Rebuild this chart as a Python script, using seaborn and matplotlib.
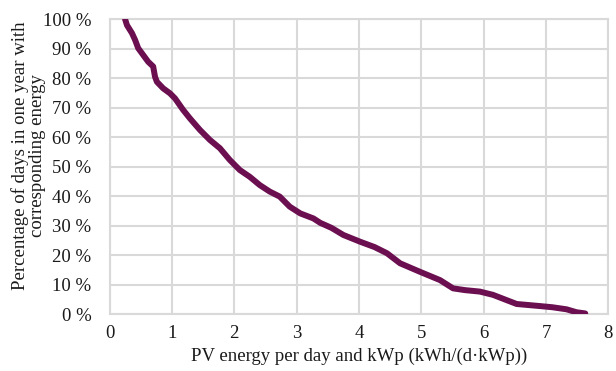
import matplotlib
matplotlib.use("Agg")
import matplotlib.pyplot as plt
import seaborn as sns
import pandas as pd
from matplotlib.ticker import FuncFormatter

# Daily PV yield per kWp and share of days in the year reaching at least that yield
energy = [0.25, 0.28, 0.36, 0.41, 0.46, 0.54, 0.62, 0.70, 0.73, 0.76, 0.86, 0.97,
          1.05, 1.18, 1.29, 1.45, 1.61, 1.77, 1.93, 2.09, 2.25, 2.41, 2.57, 2.73,
          2.89, 3.06, 3.27, 3.38, 3.56, 3.75, 4.02, 4.25, 4.45, 4.66, 4.98, 5.30,
          5.51, 5.70, 5.94, 6.15, 6.37, 6.53, 6.90, 7.10, 7.33, 7.49, 7.63]
share = [100.0, 98.0, 95.3, 93.0, 90.2, 87.9, 85.6, 84.0, 80.5, 78.8, 76.6, 74.9,
         73.2, 69.3, 66.4, 62.5, 59.1, 56.3, 52.3, 48.9, 46.6, 43.8, 41.6, 39.9,
         36.5, 34.2, 32.5, 31.0, 29.3, 26.9, 24.6, 22.8, 20.7, 17.3, 14.4, 11.6,
         8.8, 8.2, 7.7, 6.6, 4.8, 3.5, 2.8, 2.4, 1.7, 0.7, 0.3]

x_ticks = [0, 1, 2, 3, 4, 5, 6, 7, 8]
y_ticks = [0, 10, 20, 30, 40, 50, 60, 70, 80, 90, 100]

df = pd.DataFrame({"energy": energy, "share": share})

sns.set_style("white")
plt.rcParams["font.family"] = ["Liberation Serif", "DejaVu Serif"]

grid_col = "#d9d9d9"
text_col = "#1a1a1a"
fig = plt.figure(figsize=(6.16, 3.71), dpi=100)
ax = fig.add_axes([0.1778, 0.1528, 0.8097, 0.7952])

sns.lineplot(data=df, x="energy", y="share", ax=ax, color="#6B0F50",
             linewidth=4.3, solid_capstyle="round", solid_joinstyle="round",
             zorder=3)

ax.set_xlim(0, 8)
ax.set_ylim(0, 100)
ax.set_xticks(x_ticks)
ax.set_yticks(y_ticks)
ax.yaxis.set_major_formatter(FuncFormatter(lambda v, p: f"{int(v)} %"))
ax.grid(True, color=grid_col, linewidth=1.5)
for s in ax.spines.values():
    s.set_visible(True)
    s.set_color(grid_col)
    s.set_linewidth(1.5)
ax.tick_params(axis="both", which="major", direction="out", length=5,
               width=1.2, color=grid_col, labelsize=13.5, labelcolor=text_col)
ax.tick_params(axis="y", pad=8)
ax.tick_params(axis="x", pad=3)

ax.set_xlabel("PV energy per day and kWp (kWh/(d·kWp))", fontsize=13.5,
              color=text_col, labelpad=4)
ax.set_ylabel("Percentage of days in one year with\ncorresponding energy",
              fontsize=13.5, color=text_col, linespacing=1.0,
              multialignment="center", ha="center", va="center",
              rotation_mode="default")
ax.yaxis.set_label_coords(-0.163, 0.537)

fig.savefig("out.png", dpi=100)
